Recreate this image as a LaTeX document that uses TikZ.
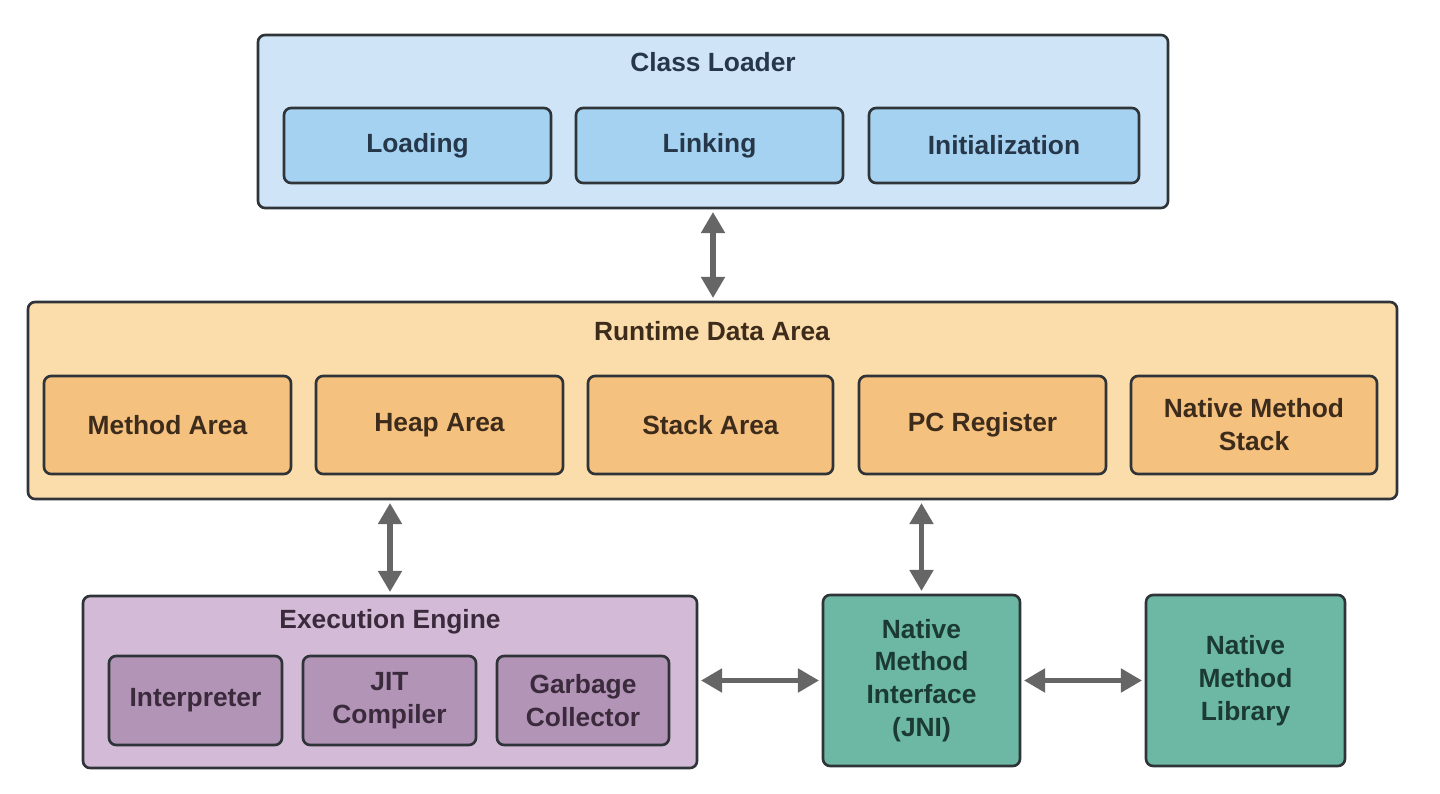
\documentclass[tikz,border=0pt]{standalone}
\usepackage{fontspec}
\setmainfont{Liberation Sans}
\usetikzlibrary{arrows.meta,fit}

\definecolor{loaderout}{HTML}{CFE5F7}
\definecolor{loaderin}{HTML}{A6D2F2}
\definecolor{loadertext}{HTML}{253748}
\definecolor{areaout}{HTML}{FBDCAB}
\definecolor{areain}{HTML}{F5C17E}
\definecolor{areatext}{HTML}{3D2B1B}
\definecolor{engout}{HTML}{D3BAD7}
\definecolor{engin}{HTML}{B294B7}
\definecolor{engtext}{HTML}{3A2A3C}
\definecolor{nativefill}{HTML}{6CB8A4}
\definecolor{nativetext}{HTML}{1B3A33}
\definecolor{edge}{HTML}{2F3438}
\definecolor{arrowgray}{HTML}{666666}

\begin{document}
\begin{tikzpicture}[x=0.02cm,y=-0.02cm,
	box/.style={draw=edge,line width=1.5pt,rounded corners=4pt,inner sep=0pt,
		align=center,font=\fontsize{15}{18.7}\selectfont\bfseries},
	title/.style={font=\fontsize{15}{18.7}\selectfont\bfseries},
	dblarrow/.style={{Triangle[length=12pt,width=13pt]}-{Triangle[length=12pt,width=13pt]},
		line width=3pt,arrowgray,shorten <=1.5pt,shorten >=1.5pt}]
	\useasboundingbox (0,0) rectangle (1440,794);
	% class loader
	\node[box,fill=loaderout,fit={(258,35) (1168,208)}] (loader) {};
	\node[title,text=loadertext] (loadertitle) at (713,62) {Class Loader};
	\node[box,fill=loaderin,text=loadertext,minimum width=5.34cm,minimum height=1.5cm] (loading) at (417.5,145.5) {Loading};
	\node[box,fill=loaderin,text=loadertext,minimum width=5.34cm,minimum height=1.5cm] (linking) at (709.5,145.5) {Linking};
	\node[box,fill=loaderin,text=loadertext,minimum width=5.4cm,minimum height=1.5cm] (init) at (1004,145.5) {Initialization};
	% runtime data area
	\node[box,fill=areaout,fit={(28,302) (1397,499)}] (runtime) {};
	\node[title,text=areatext] (runtimetitle) at (712,331) {Runtime Data Area};
	\node[box,fill=areain,text=areatext,minimum width=4.94cm,minimum height=1.96cm] (method) at (167.5,425) {Method Area};
	\node[box,fill=areain,text=areatext,minimum width=4.94cm,minimum height=1.96cm] (heap) at (439.5,425) {Heap Area};
	\node[box,fill=areain,text=areatext,minimum width=4.9cm,minimum height=1.96cm] (stack) at (710.5,425) {Stack Area};
	\node[box,fill=areain,text=areatext,minimum width=4.94cm,minimum height=1.96cm] (pc) at (982.5,425) {PC Register};
	\node[box,fill=areain,text=areatext,minimum width=4.92cm,minimum height=1.96cm] (nstack) at (1254,425) {Native Method\\Stack};
	% execution engine
	\node[box,fill=engout,fit={(83,596) (697,768)}] (engine) {};
	\node[title,text=engtext] (enginetitle) at (390,622) {Execution Engine};
	\node[box,fill=engin,text=engtext,minimum width=3.46cm,minimum height=1.78cm] (interp) at (195.5,700.5) {Interpreter};
	\node[box,fill=engin,text=engtext,minimum width=3.46cm,minimum height=1.78cm] (jit) at (389.5,700.5) {JIT\\Compiler};
	\node[box,fill=engin,text=engtext,minimum width=3.44cm,minimum height=1.78cm] (gc) at (583,700.5) {Garbage\\Collector};
	% native side
	\node[box,fill=nativefill,text=nativetext,minimum width=3.94cm,minimum height=3.42cm] (jni) at (921.5,680.5) {Native\\Method\\Interface\\(JNI)};
	\node[box,fill=nativefill,text=nativetext,minimum width=3.98cm,minimum height=3.42cm] (lib) at (1245.5,680.5) {Native\\Method\\Library};
	% connectors
	\draw[dblarrow] (loader.south) -- (runtime.north -| loader.south);
	\draw[dblarrow] (runtime.south -| engine.north) -- (engine.north);
	\draw[dblarrow] (runtime.south -| jni.north) -- (jni.north);
	\draw[dblarrow] (engine.east |- jni.west) -- (jni.west);
	\draw[dblarrow] (jni.east) -- (lib.west);
\end{tikzpicture}
\end{document}
